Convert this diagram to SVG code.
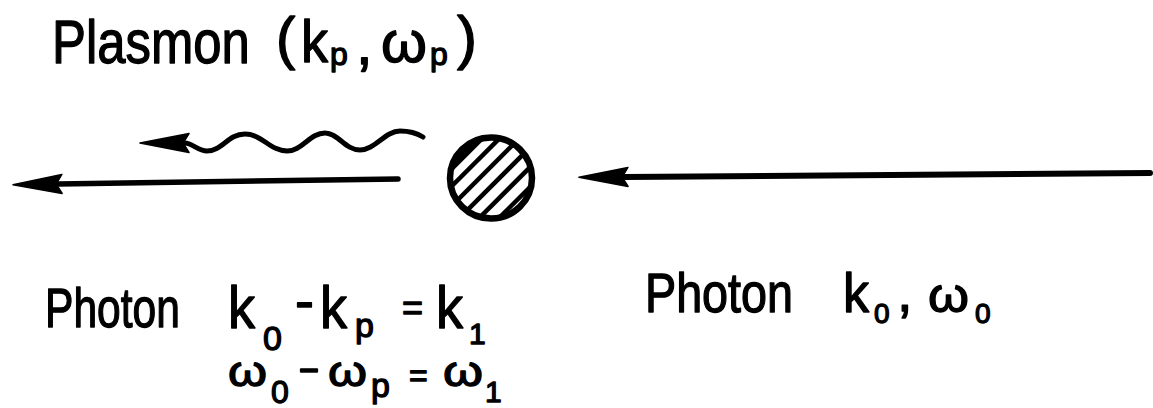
<svg xmlns="http://www.w3.org/2000/svg" width="1153" height="408" viewBox="0 0 1153 408">
  <style>
    .t { font-family: "Liberation Sans", Arial, sans-serif; fill: #000; stroke: #000; stroke-width: 1.3; stroke-linejoin: round; }
    .ln { fill: none; stroke: #000; stroke-linecap: round; stroke-linejoin: round; }
  </style>
  <defs>
    <marker id="head" markerUnits="userSpaceOnUse" markerWidth="1" markerHeight="1" refX="0" refY="0" orient="auto" overflow="visible">
      <path d="M45,0 L-4,-9.5 L1,-1.5 L1,1.5 L-4,9.5 Z" fill="#000" stroke="#000" stroke-width="1.5" stroke-linejoin="round"/>
    </marker>
    <clipPath id="inner">
      <circle cx="0" cy="0" r="40"/>
    </clipPath>
  </defs>
  <rect width="1153" height="408" fill="#fff"/>

  <g id="connectors">
    <path id="wave" class="ln" stroke-width="5" marker-end="url(#head)"
      d="M423,137 C415,132 408,131 400,131 C385,131 375,150 360,150 C345,150 338,133 325,133 C310,133 302,151 287,151 C270,151 262,134 245,134 C228,134 222,151 207,151 C198,151 192,143 185,143"/>
    <path id="photon-out" class="ln" stroke-width="5.5" marker-end="url(#head)" d="M398,179 L58,184"/>
    <path id="photon-in" class="ln" stroke-width="6" marker-end="url(#head)" d="M1150,173 L624,177"/>
  </g>

  <g id="particle">
    <g transform="translate(491,178) rotate(-45)">
      <g clip-path="url(#inner)" stroke="#000" fill="none">
        <line x1="-60" y1="-38" x2="60" y2="-38" stroke-width="12"/>
        <line x1="-60" y1="-22" x2="60" y2="-22" stroke-width="4.5"/>
        <line x1="-60" y1="-8" x2="60" y2="-8" stroke-width="4.5"/>
        <line x1="-60" y1="6" x2="60" y2="6" stroke-width="4.5"/>
        <line x1="-60" y1="20" x2="60" y2="20" stroke-width="4.5"/>
        <line x1="-60" y1="34" x2="60" y2="34" stroke-width="4.5"/>
      </g>
    </g>
    <ellipse cx="491" cy="178" rx="41" ry="40.5" fill="none" stroke="#000" stroke-width="6.5"/>
  </g>

  <g id="plasmon-label">
    <text class="t" transform="translate(52,63) scale(0.82,1)" x="0" y="0" font-size="62">Plasmon</text>
    <text class="t" x="276" y="58" font-size="58">(</text>
    <text class="t" x="301" y="62" font-size="60" textLength="27" lengthAdjust="spacingAndGlyphs">k</text>
    <text class="t" x="330" y="65" font-size="32">p</text>
    <text class="t" x="356" y="64" font-size="60">,</text>
    <text class="t" x="381" y="62" font-size="58" textLength="46" lengthAdjust="spacingAndGlyphs">ω</text>
    <text class="t" x="430" y="65" font-size="32">p</text>
    <text class="t" x="457" y="58" font-size="60">)</text>
  </g>

  <g id="photon-out-label">
    <text class="t" transform="translate(45,327) scale(0.76,1)" x="0" y="0" font-size="56">Photon</text>
    <text class="t" x="228" y="328" font-size="60" textLength="27" lengthAdjust="spacingAndGlyphs">k</text>
    <text class="t" x="263" y="350" font-size="34">0</text>
    <text class="t" x="295" y="320" font-size="56" textLength="19" lengthAdjust="spacingAndGlyphs">-</text>
    <text class="t" x="320" y="328" font-size="60" textLength="27" lengthAdjust="spacingAndGlyphs">k</text>
    <text class="t" x="355" y="337" font-size="34">p</text>
    <text class="t" x="402" y="320" font-size="36">=</text>
    <text class="t" x="436" y="328" font-size="60" textLength="27" lengthAdjust="spacingAndGlyphs">k</text>
    <text class="t" x="469" y="344" font-size="30">1</text>
    <text class="t" x="228" y="386" font-size="42" textLength="39" lengthAdjust="spacingAndGlyphs">ω</text>
    <text class="t" x="271" y="403" font-size="32">0</text>
    <text class="t" x="298" y="381" font-size="40" textLength="22" lengthAdjust="spacingAndGlyphs">-</text>
    <text class="t" x="328" y="386" font-size="42" textLength="39" lengthAdjust="spacingAndGlyphs">ω</text>
    <text class="t" x="371" y="397" font-size="34">p</text>
    <text class="t" x="409" y="386" font-size="32">=</text>
    <text class="t" x="443" y="386" font-size="42" textLength="40" lengthAdjust="spacingAndGlyphs">ω</text>
    <text class="t" x="485" y="402" font-size="30">1</text>
  </g>

  <g id="photon-in-label">
    <text class="t" transform="translate(645,312) scale(0.834,1)" x="0" y="0" font-size="56">Photon</text>
    <text class="t" x="843" y="312" font-size="56" textLength="26" lengthAdjust="spacingAndGlyphs">k</text>
    <text class="t" x="874" y="323" font-size="28">0</text>
    <text class="t" x="897" y="311" font-size="56">,</text>
    <text class="t" x="928" y="312" font-size="48" textLength="41" lengthAdjust="spacingAndGlyphs">ω</text>
    <text class="t" x="975" y="323" font-size="28">0</text>
  </g>
</svg>
